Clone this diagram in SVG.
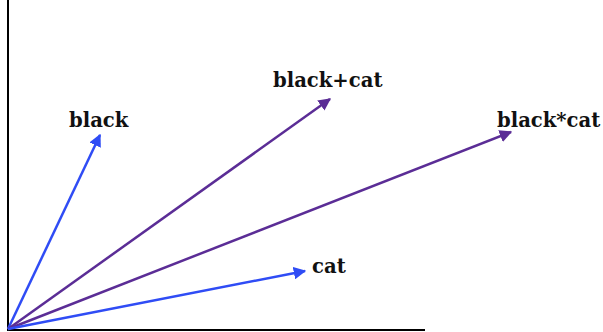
<svg xmlns="http://www.w3.org/2000/svg" width="603" height="332" viewBox="0 0 603 332">
<style>
.lbl{font-family:"DejaVu Serif","Liberation Serif",serif;font-weight:bold;font-size:19.6px;fill:#111}
.blue{stroke:#2f4cf5;stroke-width:2.5;fill:none}
.purple{stroke:#5b2d96;stroke-width:2.5;fill:none}
.axis{stroke:#000;stroke-width:2;fill:none}
</style>
<defs>
<marker id="ab" viewBox="0 0 10 10" refX="9" refY="5" markerWidth="5" markerHeight="5" orient="auto" markerUnits="strokeWidth"><path d="M0,0 L10,5 L0,10 z" fill="#2f4cf5"/></marker>
<marker id="ap" viewBox="0 0 10 10" refX="9" refY="5" markerWidth="5" markerHeight="5" orient="auto" markerUnits="strokeWidth"><path d="M0,0 L10,5 L0,10 z" fill="#5b2d96"/></marker>
</defs>
<g id="axes">
<line class="axis" x1="8" y1="0" x2="8" y2="331"/>
<line class="axis" x1="7" y1="330" x2="425" y2="330"/>
</g>
<g id="connectors">
<line class="blue" x1="8" y1="329" x2="100" y2="135" marker-end="url(#ab)"/>
<line class="purple" x1="8" y1="329" x2="330" y2="99" marker-end="url(#ap)"/>
<line class="purple" x1="8" y1="329" x2="511" y2="132" marker-end="url(#ap)"/>
<line class="blue" x1="8" y1="329" x2="305" y2="271" marker-end="url(#ab)"/>
</g>
<g id="black"><text class="lbl" x="69" y="127">black</text></g>
<g id="black-plus-cat"><text class="lbl" x="273" y="87">black+cat</text></g>
<g id="black-times-cat"><text class="lbl" x="497" y="127">black*cat</text></g>
<g id="cat"><text class="lbl" x="312" y="273">cat</text></g>
</svg>
